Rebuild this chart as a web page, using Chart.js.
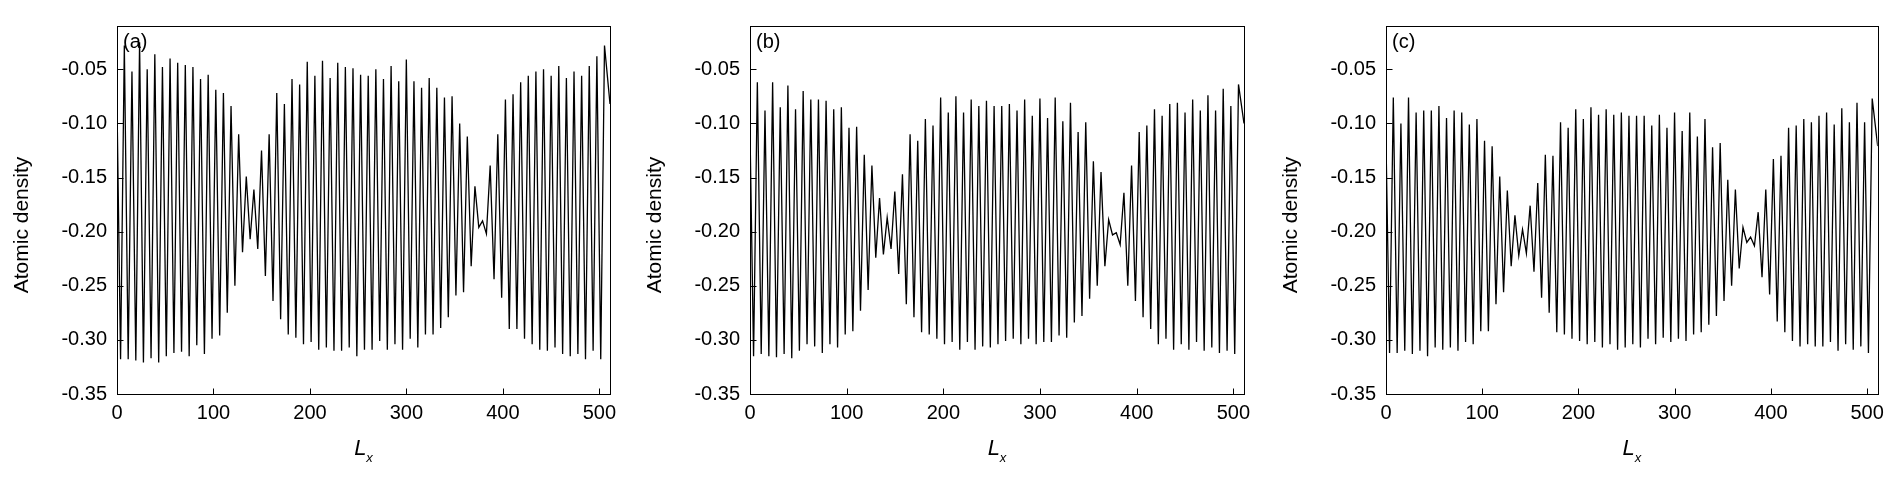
<!DOCTYPE html>
<html>
<head>
<meta charset="utf-8">
<script src="https://cdn.jsdelivr.net/npm/chart.js@4.4.1/dist/chart.umd.min.js"></script>
<style>
  html, body { margin: 0; padding: 0; background: #fff; }
  #wrap { position: relative; width: 1891px; height: 478px; overflow: hidden; }
  #wrap canvas { position: absolute; top: 0; }
</style>
</head>
<body>
<div id="wrap">
  <canvas id="pa"></canvas>
  <canvas id="pb"></canvas>
  <canvas id="pc"></canvas>
</div>
<script>
// x positions of density maxima / minima along Lx (shared by the three panels)
const PEAK_X = [
  7.6, 15.5, 23.4, 31.3, 39.2, 47.1, 55.0, 62.9, 70.8, 78.7, 86.6, 94.5, 102.4, 110.3, 118.2, 126.1,
  134.0, 141.9, 149.8, 157.7, 165.6, 173.5, 181.4, 189.3, 197.2, 205.1, 213.0, 220.9, 228.8, 236.7, 244.6, 252.5,
  260.4, 268.3, 276.2, 284.1, 292.0, 299.9, 307.8, 315.7, 323.6, 331.5, 339.4, 347.3, 355.2, 363.1, 371.0, 378.9,
  386.8, 394.7, 402.6, 410.5, 418.4, 426.3, 434.2, 442.1, 450.0, 457.9, 465.8, 473.7, 481.6, 489.5, 497.4, 505.3
];
const TROUGH_X = [
  3.7, 11.6, 19.5, 27.4, 35.3, 43.2, 51.1, 59.0, 66.9, 74.8, 82.7, 90.6, 98.5, 106.4, 114.3, 122.2,
  130.1, 138.0, 145.9, 153.8, 161.7, 169.6, 177.5, 185.4, 193.3, 201.2, 209.1, 217.0, 224.9, 232.8, 240.7, 248.6,
  256.5, 264.4, 272.3, 280.2, 288.1, 296.0, 303.9, 311.8, 319.7, 327.6, 335.5, 343.4, 351.3, 359.2, 367.1, 375.0,
  382.9, 390.8, 398.7, 406.6, 414.5, 422.4, 430.3, 438.2, 446.1, 454.0, 461.9, 469.8, 477.7, 485.6, 493.5, 501.4
];
const X_START = 0;
const X_END = 511;
const X_TICKS = [0, 100, 200, 300, 400, 500];
const Y_TICKS = [-0.35, -0.30, -0.25, -0.20, -0.15, -0.10, -0.05];

// (a)
const A_PEAKS = [
  -0.028, -0.052, -0.025, -0.050, -0.036, -0.048, -0.040, -0.044, -0.046, -0.048, -0.059, -0.055, -0.069, -0.072, -0.084, -0.110,
  -0.149, -0.161, -0.125, -0.110, -0.072, -0.082, -0.059, -0.064, -0.043, -0.056, -0.042, -0.058, -0.044, -0.048, -0.049, -0.055,
  -0.056, -0.050, -0.059, -0.047, -0.061, -0.041, -0.061, -0.067, -0.058, -0.067, -0.076, -0.075, -0.100, -0.112, -0.158, -0.190,
  -0.139, -0.110, -0.078, -0.073, -0.062, -0.056, -0.052, -0.050, -0.056, -0.047, -0.058, -0.052, -0.056, -0.047, -0.038, -0.028
];
const A_TROUGHS = [
  -0.318, -0.318, -0.319, -0.321, -0.317, -0.321, -0.315, -0.312, -0.311, -0.315, -0.305, -0.313, -0.299, -0.296, -0.275, -0.250,
  -0.219, -0.207, -0.216, -0.241, -0.264, -0.281, -0.295, -0.298, -0.304, -0.302, -0.309, -0.307, -0.310, -0.310, -0.307, -0.315,
  -0.309, -0.309, -0.301, -0.309, -0.304, -0.309, -0.299, -0.307, -0.295, -0.295, -0.289, -0.279, -0.259, -0.256, -0.232, -0.196,
  -0.202, -0.244, -0.261, -0.290, -0.290, -0.299, -0.304, -0.309, -0.310, -0.307, -0.313, -0.315, -0.313, -0.318, -0.310, -0.318
];
const A_ENDS = [-0.082, -0.082];

// (b)
const B_PEAKS = [
  -0.062, -0.088, -0.062, -0.085, -0.065, -0.087, -0.070, -0.078, -0.078, -0.079, -0.087, -0.085, -0.104, -0.103, -0.129, -0.139,
  -0.169, -0.187, -0.163, -0.147, -0.110, -0.116, -0.096, -0.102, -0.076, -0.090, -0.075, -0.090, -0.078, -0.084, -0.079, -0.084,
  -0.084, -0.082, -0.088, -0.078, -0.093, -0.077, -0.095, -0.076, -0.098, -0.081, -0.108, -0.099, -0.135, -0.145, -0.189, -0.201,
  -0.164, -0.139, -0.108, -0.102, -0.087, -0.093, -0.082, -0.081, -0.090, -0.078, -0.088, -0.074, -0.088, -0.068, -0.084, -0.064
];
const B_TROUGHS = [
  -0.315, -0.313, -0.315, -0.316, -0.313, -0.317, -0.310, -0.304, -0.306, -0.312, -0.304, -0.307, -0.295, -0.292, -0.273, -0.254,
  -0.224, -0.221, -0.216, -0.239, -0.267, -0.279, -0.293, -0.295, -0.299, -0.304, -0.302, -0.309, -0.302, -0.309, -0.306, -0.307,
  -0.304, -0.301, -0.299, -0.304, -0.299, -0.304, -0.302, -0.302, -0.296, -0.298, -0.284, -0.278, -0.262, -0.250, -0.232, -0.203,
  -0.212, -0.250, -0.264, -0.279, -0.290, -0.304, -0.299, -0.309, -0.304, -0.309, -0.302, -0.310, -0.307, -0.312, -0.310, -0.313
];
const B_ENDS = [-0.107, -0.100];

// (c)
const C_PEAKS = [
  -0.076, -0.100, -0.076, -0.090, -0.088, -0.088, -0.084, -0.095, -0.088, -0.090, -0.101, -0.096, -0.116, -0.121, -0.149, -0.162,
  -0.185, -0.198, -0.176, -0.155, -0.129, -0.130, -0.099, -0.104, -0.087, -0.096, -0.085, -0.092, -0.087, -0.092, -0.090, -0.093,
  -0.093, -0.093, -0.102, -0.092, -0.104, -0.090, -0.107, -0.090, -0.112, -0.096, -0.122, -0.118, -0.152, -0.161, -0.196, -0.205,
  -0.182, -0.161, -0.133, -0.130, -0.104, -0.102, -0.096, -0.099, -0.093, -0.090, -0.101, -0.086, -0.099, -0.081, -0.099, -0.077
];
const C_TROUGHS = [
  -0.312, -0.312, -0.310, -0.313, -0.310, -0.315, -0.307, -0.309, -0.307, -0.310, -0.302, -0.304, -0.292, -0.292, -0.267, -0.256,
  -0.232, -0.222, -0.220, -0.237, -0.261, -0.275, -0.293, -0.295, -0.299, -0.301, -0.304, -0.302, -0.307, -0.304, -0.309, -0.307,
  -0.304, -0.307, -0.299, -0.304, -0.298, -0.302, -0.299, -0.301, -0.295, -0.293, -0.286, -0.278, -0.264, -0.250, -0.234, -0.210,
  -0.213, -0.242, -0.258, -0.283, -0.293, -0.301, -0.306, -0.304, -0.306, -0.306, -0.302, -0.310, -0.304, -0.309, -0.306, -0.312
];
const C_ENDS = [-0.116, -0.121];

const FONT = '"Liberation Sans", Arial, Helvetica, sans-serif';

const panels = [
  { id: "pa", left: 0,    width: 630, padRight: 20, label: "(a)", peaks: A_PEAKS, troughs: A_TROUGHS, ends: A_ENDS },
  { id: "pb", left: 633,  width: 630, padRight: 19, label: "(b)", peaks: B_PEAKS, troughs: B_TROUGHS, ends: B_ENDS },
  { id: "pc", left: 1269, width: 622, padRight: 10, label: "(c)", peaks: C_PEAKS, troughs: C_TROUGHS, ends: C_ENDS },
];

function buildSeries(p) {
  const pts = [{ x: X_START, y: p.ends[0] }];
  for (let i = 0; i < PEAK_X.length; i++) {
    pts.push({ x: TROUGH_X[i], y: p.troughs[i] });
    pts.push({ x: PEAK_X[i], y: p.peaks[i] });
  }
  pts.push({ x: X_END, y: p.ends[1] });
  return pts;
}

// box frame, inward ticks, panel letter and axis titles
const framePlugin = {
  id: "frame",
  afterDraw(chart, args, opts) {
    const { ctx, chartArea: a, scales: { x, y } } = chart;
    ctx.save();
    ctx.strokeStyle = "#000";
    ctx.lineWidth = 1;
    const L = Math.round(a.left) + 0.5, T = Math.round(a.top) + 0.5;
    const R = Math.round(a.right) + 0.5, B = Math.round(a.bottom) + 0.5;
    ctx.strokeRect(L, T, R - L, B - T);
    ctx.beginPath();
    x.ticks.forEach(t => {
      const px = Math.round(x.getPixelForValue(t.value)) + 0.5;
      ctx.moveTo(px, B); ctx.lineTo(px, B - 6);
    });
    y.ticks.forEach(t => {
      const py = Math.round(y.getPixelForValue(t.value)) + 0.5;
      ctx.moveTo(L, py); ctx.lineTo(L + 6, py);
    });
    ctx.stroke();

    ctx.fillStyle = "#000";
    ctx.font = `20px ${FONT}`;
    ctx.textAlign = "left";
    ctx.textBaseline = "alphabetic";
    ctx.fillText(opts.label, a.left + 6, a.top + 22);

    // y title
    ctx.save();
    ctx.translate(a.left - 95, 225);
    ctx.rotate(-Math.PI / 2);
    ctx.textAlign = "center";
    ctx.textBaseline = "middle";
    ctx.font = `21px ${FONT}`;
    ctx.fillText("Atomic density", 0, 0);
    ctx.restore();

    // x title: L with subscript x
    const cx = (a.left + a.right) / 2;
    ctx.font = `italic 22px ${FONT}`;
    const wL = ctx.measureText("L").width;
    ctx.font = `italic 13px ${FONT}`;
    const wx = ctx.measureText("x").width;
    const x0 = cx - (wL + wx) / 2;
    ctx.font = `italic 22px ${FONT}`;
    ctx.textAlign = "left";
    ctx.fillText("L", x0, 455);
    ctx.font = `italic 13px ${FONT}`;
    ctx.fillText("x", x0 + wL, 462);
    ctx.restore();
  }
};

panels.forEach(p => {
  const cv = document.getElementById(p.id);
  cv.width = p.width;
  cv.height = 478;
  cv.style.left = p.left + "px";
  cv.style.width = p.width + "px";
  cv.style.height = "478px";

  new Chart(cv, {
    type: "line",
    data: {
      datasets: [{
        data: buildSeries(p),
        borderColor: "#000",
        borderWidth: 1.3,
        pointRadius: 0,
        tension: 0,
        fill: false,
      }],
    },
    options: {
      responsive: false,
      animation: false,
      events: [],
      devicePixelRatio: 1,
      layout: { padding: { left: 0, top: 26, right: p.padRight, bottom: 0 } },
      plugins: { legend: { display: false }, tooltip: { enabled: false }, frame: { label: p.label } },
      scales: {
        x: {
          type: "linear", min: X_START, max: X_END,
          afterBuildTicks: s => { s.ticks = X_TICKS.map(v => ({ value: v })); },
          afterFit: s => { s.height = 84; },
          grid: { display: false, drawTicks: false },
          border: { display: false },
          ticks: { color: "#000", font: { family: FONT, size: 20 }, padding: 7, autoSkip: false, maxRotation: 0, callback: v => String(v) },
        },
        y: {
          type: "linear", min: -0.35, max: -0.01,
          afterBuildTicks: s => { s.ticks = Y_TICKS.map(v => ({ value: v })); },
          afterFit: s => { s.width = 117; },
          grid: { display: false, drawTicks: false },
          border: { display: false },
          ticks: { color: "#000", font: { family: FONT, size: 20 }, padding: 10, autoSkip: false, callback: v => v.toFixed(2) },
        },
      },
    },
    plugins: [framePlugin],
  });
});
</script>
</body>
</html>
